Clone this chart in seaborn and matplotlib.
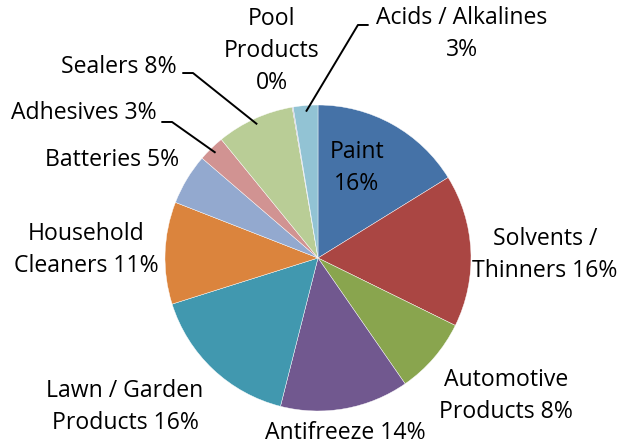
import numpy as np
import matplotlib
matplotlib.use('Agg')
import matplotlib.pyplot as plt
import seaborn as sns

categories = ['Paint', 'Solvents /\nThinners', 'Automotive\nProducts', 'Antifreeze',
              'Lawn / Garden\nProducts', 'Household\nCleaners', 'Batteries', 'Adhesives',
              'Sealers', 'Pool\nProducts', 'Acids / Alkalines']
values = [16.2, 16.1, 8.1, 13.6, 16.2, 10.8, 5.4, 2.8, 8.2, 0.1, 2.6]
# how the percentage is joined to the name (space or new line)
pct_sep = ['\n', ' ', ' ', ' ', ' ', ' ', ' ', ' ', ' ', '\n', '\n']

colors = ['#4572A7', '#AA4643', '#89A54E', '#71588F', '#4198AF', '#DB843D',
          '#93A9CF', '#D19392', '#B9CD96', '#A99BBD', '#92C3D4']

# label centres in pie-radius units
label_pos = [(0.255, 0.588), (1.484, 0.020), (1.229, -0.902), (0.176, -1.144),
             (-1.261, -0.974), (-1.516, 0.052), (-1.346, 0.641), (-1.529, 0.948),
             (-1.301, 1.248), (-0.301, 1.353), (0.941, 1.464)]
# leader line elbows (only for the crowded small slices)
leader = {7: (-0.954, 0.889, -1), 8: (-0.817, 1.209, -1), 10: (0.261, 1.523, 1)}

sns.set_theme(style='white')
plt.rcParams['font.family'] = ['Open Sans', 'DejaVu Sans']

fig = plt.figure(figsize=(6.24, 4.48), dpi=100)
ax = fig.add_axes([0, 0, 1, 1])

wedges, _ = ax.pie(values, colors=colors, startangle=90, counterclock=False,
                   radius=1.0, wedgeprops=dict(edgecolor='white', linewidth=0.3))

r_px = 153.0
ax.set_xlim(-318 / r_px, (624 - 318) / r_px)
ax.set_ylim(-(448 - 258) / r_px, 258 / r_px)
ax.set_aspect('equal')
ax.axis('off')

total = sum(values)
for i, (name, v) in enumerate(zip(categories, values)):
    pct = int(round(v / total * 100))
    x, y = label_pos[i]
    ax.text(x, y, f'{name}{pct_sep[i]}{pct}%', ha='center', va='center',
            fontsize=16.6, color='black', linespacing=1.42)
    if i in leader:
        ex, ey, side = leader[i]
        w = wedges[i]
        mid = np.deg2rad((w.theta1 + w.theta2) / 2)
        px, py = 0.96 * np.cos(mid), 0.96 * np.sin(mid)
        ax.plot([ex + side * 0.07, ex, px], [ey, ey, py], color='black', lw=1.4,
                solid_capstyle='butt')

fig.savefig('out.png', dpi=100)
